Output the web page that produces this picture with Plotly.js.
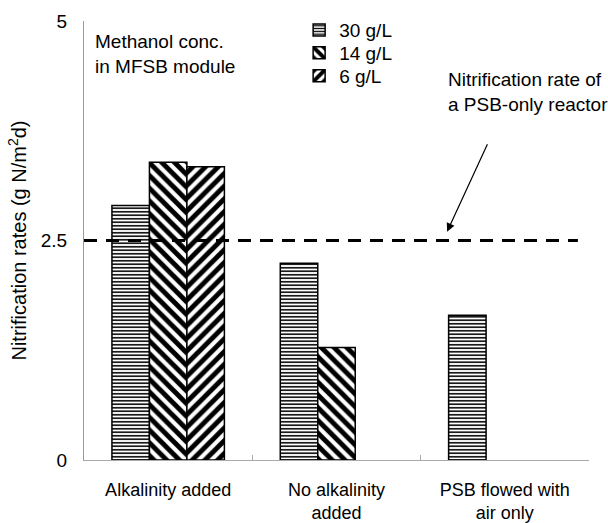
<!DOCTYPE html>
<html>
<head>
<meta charset="utf-8">
<script src="https://cdn.plot.ly/plotly-3.0.1.min.js"></script>
<style>
  html, body { margin: 0; padding: 0; background: #fff; }
  #chart { width: 608px; height: 523px; }
</style>
</head>
<body>
<div id="chart"></div>
<script>
// Treatment conditions along the x axis
const categories = ['Alkalinity added', 'No alkalinity<br>added', 'PSB flowed with<br>air only'];

// Nitrification rates (g N/m2 d) for each methanol concentration in the MFSB module
const rate30 = [2.90, 2.24, 1.65];
const rate14 = [3.39, 1.28, null];
const rate6 = [3.34, null, null];

// Reference level: nitrification rate of a PSB-only reactor
const psbOnlyRate = 2.5;

const yTickVals = [0, 2.5, 5];
const yTickText = ['0', '2.5', '5'];

const font = 'Liberation Sans, Arial, sans-serif';
const line = { color: '#000', width: 1.5 };

const traces = [
  {
    type: 'bar', name: '30 g/L', x: categories, y: rate30, legend: 'legend',
    marker: { color: '#fff', line: line,
      pattern: { shape: '-', size: 3.5, solidity: 0.45, fgcolor: '#000', bgcolor: '#fff', fillmode: 'replace' } }
  },
  {
    type: 'bar', name: '14 g/L', x: categories, y: rate14, legend: 'legend2',
    marker: { color: '#fff', line: line,
      pattern: { shape: '\\', size: 9, solidity: 0.55, fgcolor: '#000', bgcolor: '#fff', fillmode: 'replace' } }
  },
  {
    type: 'bar', name: '6 g/L', x: categories, y: rate6, legend: 'legend3',
    marker: { color: '#fff', line: line,
      pattern: { shape: '/', size: 9, solidity: 0.55, fgcolor: '#000', bgcolor: '#fff', fillmode: 'replace' } }
  }
];

// One legend box per series so the rows sit close together
function legendAt(y) {
  return {
    x: 0.426, y: y, xanchor: 'left', yanchor: 'middle',
    bgcolor: 'rgba(0,0,0,0)', borderwidth: 0,
    font: { family: font, size: 19, color: '#000' }
  };
}

const layout = {
  width: 608, height: 523,
  margin: { l: 84, r: 19, t: 20, b: 63 },
  paper_bgcolor: '#fff', plot_bgcolor: '#fff',
  font: { family: font, size: 19, color: '#000' },
  barmode: 'group', bargap: 0.332, bargroupgap: 0,
  showlegend: true,
  legend: legendAt(0.977),
  legend2: legendAt(0.925),
  legend3: legendAt(0.873),
  xaxis: {
    type: 'category', range: [-0.5, 2.5],
    showline: true, linecolor: '#aaa', linewidth: 1,
    ticks: 'inside', tickson: 'boundaries', ticklen: 5, tickcolor: '#aaa',
    showgrid: false, zeroline: false,
    tickfont: { family: font, size: 18, color: '#000' },
    ticklabelstandoff: 13
  },
  yaxis: {
    range: [0, 5], tickvals: yTickVals, ticktext: yTickText,
    showline: true, linecolor: '#999', linewidth: 1,
    ticks: '', showgrid: false, zeroline: false,
    ticklabelstandoff: 12,
    tickfont: { family: font, size: 19, color: '#000' },
    title: { text: 'Nitrification rates (g N/m<sup>2</sup>d)', font: { family: font, size: 20, color: '#000' }, standoff: 8 }
  },
  shapes: [
    {
      type: 'line', xref: 'paper', yref: 'y',
      x0: 0, x1: 0.978, y0: psbOnlyRate, y1: psbOnlyRate,
      line: { color: '#000', width: 3, dash: '13px,9px' }
    }
  ],
  annotations: [
    {
      xref: 'paper', yref: 'paper', x: 0.018, y: 0.924, xanchor: 'left', yanchor: 'middle',
      align: 'left', showarrow: false,
      text: 'Methanol conc.<br>in MFSB module'
    },
    {
      xref: 'paper', yref: 'paper', x: 0.717, y: 0.8375, xanchor: 'left', yanchor: 'middle',
      align: 'left', showarrow: false,
      text: 'Nitrification rate of<br>a PSB-only reactor'
    },
    {
      xref: 'paper', yref: 'y', x: 0.719, y: 2.6, text: '',
      showarrow: true, arrowhead: 2, arrowsize: 1.4, arrowwidth: 1.2, arrowcolor: '#000',
      ax: 41, ay: -89
    }
  ]
};

Plotly.newPlot('chart', traces, layout, { displayModeBar: false, staticPlot: true });
</script>
</body>
</html>
